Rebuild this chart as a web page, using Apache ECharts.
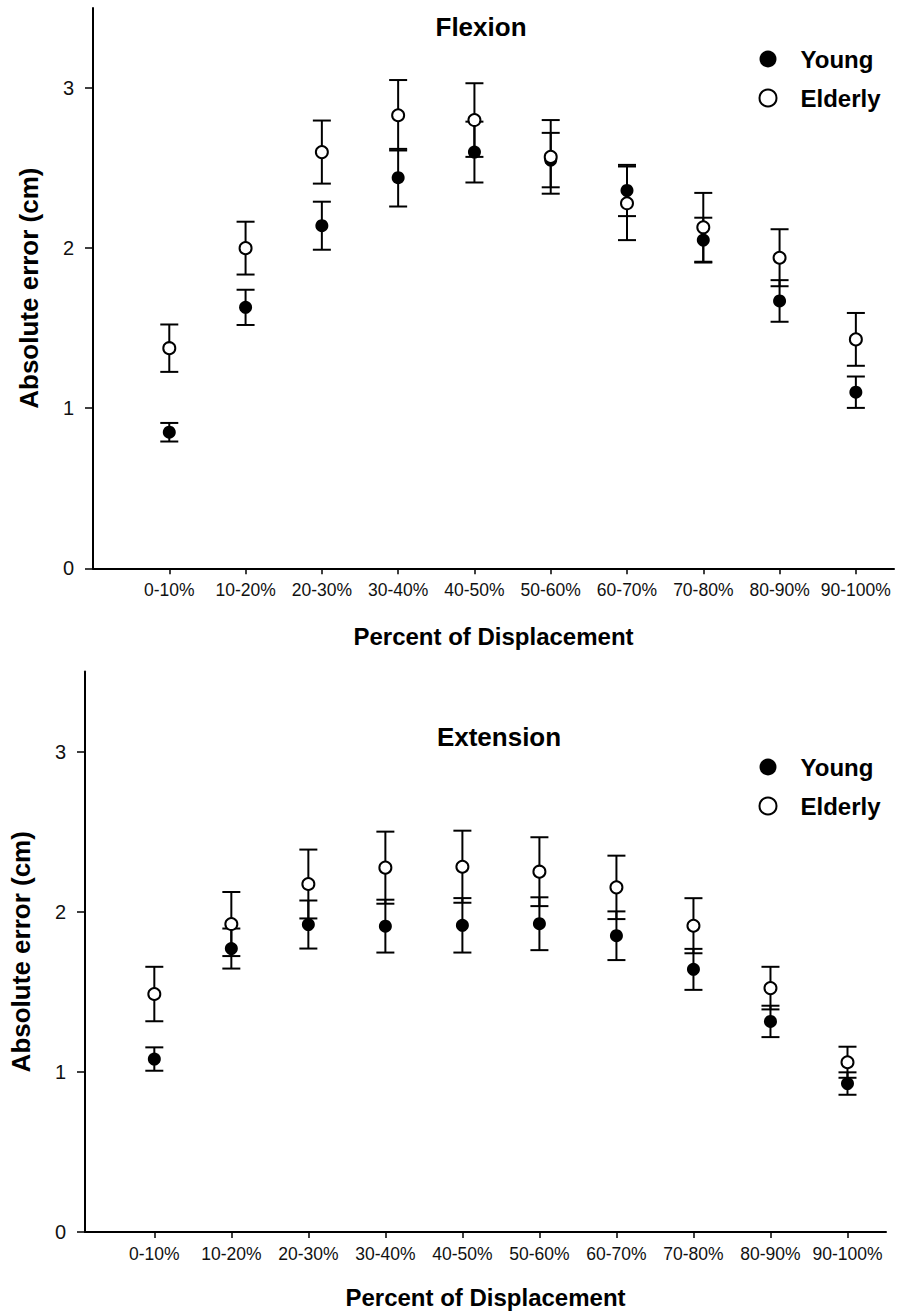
<!DOCTYPE html>
<html>
<head>
<meta charset="utf-8">
<script src="https://cdn.jsdelivr.net/npm/echarts@6/dist/echarts.min.js"></script>
<style>html,body{margin:0;padding:0;background:#fff}#c{width:910px;height:1313px}</style>
</head>
<body>
<div id="c"></div>
<script>
const categories = ['0-10%','10-20%','20-30%','30-40%','40-50%','50-60%','60-70%','70-80%','80-90%','90-100%'];
const yTickValues = [0, 1, 2, 3];

const flexYoungMean   = [0.85, 1.63, 2.14, 2.44, 2.60, 2.55, 2.36, 2.05, 1.67, 1.10];
const flexYoungErr    = [0.058, 0.11, 0.15, 0.18, 0.19, 0.17, 0.16, 0.14, 0.13, 0.098];
const flexElderlyMean = [1.375, 2.00, 2.60, 2.83, 2.80, 2.57, 2.28, 2.13, 1.94, 1.43];
const flexElderlyErr  = [0.148, 0.165, 0.197, 0.22, 0.23, 0.23, 0.23, 0.215, 0.178, 0.165];

const extYoungMean    = [1.08, 1.77, 1.92, 1.91, 1.915, 1.925, 1.85, 1.64, 1.315, 0.927];
const extYoungErr     = [0.073, 0.125, 0.15, 0.165, 0.17, 0.165, 0.152, 0.128, 0.098, 0.07];
const extElderlyMean  = [1.486, 1.923, 2.173, 2.275, 2.281, 2.25, 2.152, 1.9125, 1.523, 1.06];
const extElderlyErr   = [0.17, 0.2, 0.215, 0.225, 0.225, 0.215, 0.198, 0.172, 0.133, 0.097];

const FONT = "'Liberation Sans', Arial, Helvetica, sans-serif";
const tickPos = categories.map((c, i) => i + 1);

function pts(mean) { return mean.map((m, i) => [i + 1, m]); }
function bars(mean, err) { return mean.map((m, i) => [i + 1, m - err[i], m + err[i]]); }

function errRender(params, api) {
  const x = api.value(0), lo = api.value(1), hi = api.value(2);
  const pT = api.coord([x, hi]), pB = api.coord([x, lo]);
  const hw = 9;
  const style = { stroke: '#000', lineWidth: 2, fill: null };
  return { type: 'group', children: [
    { type: 'line', shape: { x1: pT[0], y1: pT[1], x2: pB[0], y2: pB[1] }, style },
    { type: 'line', shape: { x1: pT[0] - hw, y1: pT[1], x2: pT[0] + hw, y2: pT[1] }, style },
    { type: 'line', shape: { x1: pB[0] - hw, y1: pB[1], x2: pB[0] + hw, y2: pB[1] }, style }
  ]};
}

function xAxisDef(gridIndex, min, nameGap) {
  return {
    gridIndex, type: 'value', min, max: 10.5,
    name: 'Percent of Displacement', nameLocation: 'middle', nameGap,
    nameTextStyle: { fontFamily: FONT, fontWeight: 'bold', fontSize: 24, color: '#000', verticalAlign: 'middle' },
    axisLine: { show: true, onZero: false, lineStyle: { color: '#000', width: 2 } },
    axisTick: { show: true, inside: false, length: 6, customValues: tickPos, lineStyle: { color: '#000', width: 1.5 } },
    axisLabel: { show: true, margin: 13, customValues: tickPos, fontFamily: FONT, fontSize: 17.5, color: '#111',
      formatter: v => categories[Math.round(v) - 1] || '' },
    splitLine: { show: false }
  };
}
function yAxisDef(gridIndex) {
  return {
    gridIndex, type: 'value', min: 0, max: 3.5,
    name: 'Absolute error (cm)', nameLocation: 'middle', nameGap: 64, nameRotate: 90,
    nameTextStyle: { fontFamily: FONT, fontWeight: 'bold', fontSize: 26, color: '#000', verticalAlign: 'middle' },
    axisLine: { show: true, lineStyle: { color: '#000', width: 2 } },
    axisTick: { show: true, inside: false, length: 8, customValues: yTickValues, lineStyle: { color: '#000', width: 1.5 } },
    axisLabel: { show: true, margin: 19, customValues: yTickValues, fontFamily: FONT, fontSize: 20, color: '#111' },
    splitLine: { show: false }
  };
}

function seriesFor(idx, yMean, yErr, eMean, eErr) {
  return [
    { type: 'custom', name: 'Young SE', xAxisIndex: idx, yAxisIndex: idx, renderItem: errRender,
      encode: { x: 0, y: [1, 2] }, data: bars(yMean, yErr), z: 2, silent: true },
    { type: 'custom', name: 'Elderly SE', xAxisIndex: idx, yAxisIndex: idx, renderItem: errRender,
      encode: { x: 0, y: [1, 2] }, data: bars(eMean, eErr), z: 2, silent: true },
    { type: 'scatter', name: 'Young', xAxisIndex: idx, yAxisIndex: idx, symbol: 'circle', symbolSize: 13,
      itemStyle: { color: '#000', borderColor: '#000', borderWidth: 0, opacity: 1 }, data: pts(yMean), z: 3 },
    { type: 'scatter', name: 'Elderly', xAxisIndex: idx, yAxisIndex: idx, symbol: 'circle', symbolSize: 12,
      itemStyle: { color: '#fff', borderColor: '#000', borderWidth: 2, opacity: 1 }, data: pts(eMean), z: 4 }
  ];
}

function legendDef(left, top) {
  return {
    left, top, orient: 'vertical', itemWidth: 17, itemHeight: 17, itemGap: 15,
    data: [
      { name: 'Young', icon: 'circle', itemStyle: { color: '#000', borderWidth: 0 } },
      { name: 'Elderly', icon: 'circle', itemStyle: { color: '#fff', borderColor: '#000', borderWidth: 2 } }
    ],
    selectedMode: false,
    textStyle: { fontFamily: FONT, fontWeight: 'bold', fontSize: 24, color: '#000', lineHeight: 17, padding: [0, 0, 0, 19] }
  };
}

const chart = echarts.init(document.getElementById('c'), null, { renderer: 'svg', width: 910, height: 1313 });
chart.setOption({
  animation: false,
  backgroundColor: '#fff',
  grid: [
    { left: 93, top: 8, width: 801, height: 560.3 },
    { left: 85, top: 671.5, width: 801, height: 560.5 }
  ],
  xAxis: [xAxisDef(0, 0, 68), xAxisDef(1, 0.1, 65)],
  yAxis: [yAxisDef(0), yAxisDef(1)],
  legend: [legendDef(753.5, 42), legendDef(753.5, 750)],
  graphic: [
    { type: 'text', x: 481, y: 27, style: { text: 'Flexion', textAlign: 'center', textVerticalAlign: 'middle',
      fontFamily: FONT, fontWeight: 'bold', fontSize: 26, fill: '#000' } },
    { type: 'text', x: 499, y: 737, style: { text: 'Extension', textAlign: 'center', textVerticalAlign: 'middle',
      fontFamily: FONT, fontWeight: 'bold', fontSize: 26, fill: '#000' } }
  ],
  series: [
    ...seriesFor(0, flexYoungMean, flexYoungErr, flexElderlyMean, flexElderlyErr),
    ...seriesFor(1, extYoungMean, extYoungErr, extElderlyMean, extElderlyErr)
  ]
});
</script>
</body>
</html>
